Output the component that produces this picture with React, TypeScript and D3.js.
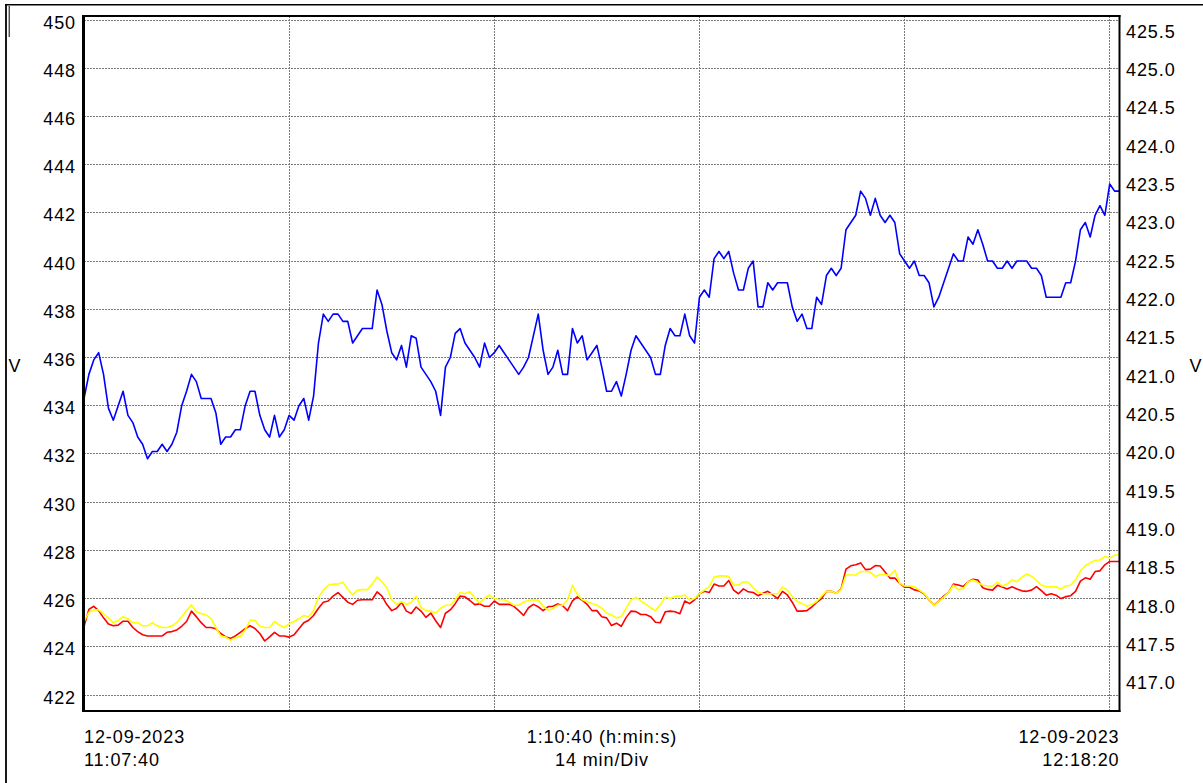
import * as d3 from "d3";

// seconds between samples, total span 1:10:40
const SAMPLE_STEP = 20;
const SPAN = 4240;

const blueV = [
  434.3, 435.3, 435.9, 436.2, 435.3, 433.9, 433.4, 434.0, 434.6, 433.6,
  433.3, 432.7, 432.4, 431.8, 432.1, 432.1, 432.4, 432.1, 432.4, 432.9,
  434.0, 434.6, 435.3, 435.0, 434.3, 434.3, 434.3, 433.7, 432.4, 432.7,
  432.7, 433.0, 433.0, 434.0, 434.6, 434.6, 433.6, 433.0, 432.7, 433.6,
  432.7, 433.0, 433.6, 433.4, 434.0, 434.3, 433.4, 434.4, 436.6,
  437.8, 437.5, 437.8, 437.8, 437.5, 437.5, 436.6, 436.9, 437.2, 437.2, 437.2,
  438.8, 438.2, 437.1, 436.2, 435.9, 436.5, 435.6, 436.9, 436.8, 435.6,
  435.3, 435.0, 434.6, 433.6, 435.6, 436.0, 437.0, 437.2, 436.6, 436.3,
  436.0, 435.6, 436.6, 436.0, 436.2, 436.5, 436.2, 435.9, 435.6, 435.3,
  435.6, 436.0, 436.9, 437.8, 436.3, 435.3, 435.6, 436.3, 435.3, 435.3,
  437.2, 436.6, 436.9, 435.9, 436.2, 436.5, 435.6, 434.6, 434.6, 435.0,
  434.4, 435.3, 436.3, 436.9, 436.6, 436.3, 436.0, 435.3, 435.3, 436.5,
  437.2, 436.9, 436.9, 437.8, 436.9, 436.6, 438.5, 438.8, 438.5, 440.1,
  440.4, 440.1, 440.4, 439.5, 438.8, 438.8, 439.7, 440.0, 438.1, 438.1,
  439.1, 438.8, 439.1, 439.1, 439.1, 438.1, 437.5, 437.8, 437.2, 437.2,
  438.5, 438.2, 439.4, 439.7, 439.4, 439.7, 441.3, 441.6, 441.9, 442.9,
  442.6, 441.9, 442.6, 441.9, 441.6, 441.9, 441.6, 440.3, 440.0, 439.7,
  440.0, 439.4, 439.4, 439.1, 438.1, 438.5, 439.1, 439.7, 440.3, 440.0,
  440.0, 441.0, 440.7, 441.3, 440.7, 440.0, 440.0, 439.7, 439.7, 440.0,
  439.7, 440.0, 440.0, 440.0, 439.7, 439.7, 439.4, 438.5, 438.5, 438.5,
  438.5, 439.1, 439.1, 440.0, 441.3, 441.6, 441.0, 441.9, 442.3, 441.9,
  443.2, 442.9, 442.9,
];

const redV = [
  424.84, 425.55, 425.68, 425.5, 425.2, 424.95, 424.87, 424.9, 425.06, 425.06,
  424.8, 424.63, 424.5, 424.45, 424.45, 424.45, 424.45, 424.6, 424.63, 424.7,
  424.85, 425.05, 425.48, 425.25, 425.0, 424.8, 424.8, 424.75, 424.55, 424.41,
  424.35, 424.45, 424.6, 424.75, 424.87, 424.76, 424.55, 424.24, 424.41, 424.6,
  424.45, 424.45, 424.4, 424.5, 424.75, 425.0, 425.1, 425.3, 425.6, 425.85,
  425.9, 426.1, 426.25, 426.05, 425.85, 425.76, 425.93, 425.95, 425.95, 425.95,
  426.28,
  426.1, 425.75, 425.5, 425.6, 425.85, 425.48, 425.38, 425.65, 425.48,
  425.22, 425.4, 425.08, 424.8, 425.39, 425.53, 425.79, 426.1, 426.07, 425.92,
  425.75, 425.78, 425.68, 425.68, 425.9, 425.76, 425.76, 425.76, 425.68, 425.5,
  425.3, 425.62, 425.76, 425.66, 425.5, 425.66, 425.68, 425.78, 425.7, 425.5,
  425.9, 426.07, 425.93, 425.76, 425.5, 425.5, 425.25, 425.2, 424.88, 424.98,
  424.85, 425.22, 425.48, 425.46, 425.34, 425.34, 425.25, 425.02, 425.0, 425.45,
  425.48, 425.45, 425.37,
  425.9, 425.79, 425.95, 426.2, 426.3, 426.25, 426.6, 426.52, 426.52, 426.75,
  426.35, 426.2, 426.4, 426.28, 426.25, 426.12, 426.22, 426.3, 426.15, 426.0,
  426.3, 426.15, 425.85, 425.48, 425.48, 425.5, 425.65, 425.84, 426.0, 426.3,
  426.3, 426.22, 426.4, 427.22, 427.36, 427.4, 427.48, 427.2, 427.22, 427.37,
  427.35, 427.1, 426.85, 426.85, 426.63, 426.47, 426.47, 426.36, 426.32, 426.2,
  425.95, 425.72, 425.9, 426.1, 426.25, 426.6, 426.56, 426.5, 426.7, 426.8,
  426.77,
  426.45, 426.38, 426.35, 426.55, 426.48, 426.4, 426.49, 426.4, 426.32, 426.3,
  426.35, 426.5, 426.33, 426.14, 426.2, 426.14, 426.0, 426.08, 426.12, 426.3,
  426.72, 426.86, 426.8, 427.12, 427.15, 427.4, 427.54, 427.54, 427.54,
];

const yellowV = [
  425.05, 425.43, 425.53, 425.53, 425.37, 425.2, 425.0, 425.1, 425.25, 425.16,
  425.0, 425.0, 424.87, 424.87, 425.0, 424.87, 424.8, 424.8, 424.87, 425.0,
  425.25, 425.5, 425.74, 425.45, 425.38, 425.32, 425.18, 424.8, 424.45, 424.4,
  424.27, 424.38, 424.43, 424.7, 425.1, 425.1, 424.85, 424.8, 424.8, 425.05,
  424.9, 424.8, 424.95, 425.05, 425.16, 425.3, 425.25, 425.5, 426.05, 426.35,
  426.55, 426.6, 426.6, 426.68, 426.4, 426.15, 426.35, 426.37, 426.37, 426.6,
  426.9,
  426.7, 426.45, 425.95, 425.75, 425.88, 425.75, 425.85, 426.1, 425.63,
  425.5, 425.47, 425.4, 425.6, 425.72, 425.72, 425.95, 426.25, 426.2, 426.28,
  426.03, 425.82, 426.02, 426.15, 426.0, 425.95, 425.95, 425.86, 425.72, 425.72,
  425.85, 425.93, 425.95, 425.93, 425.68, 425.52, 425.58, 425.72, 425.72, 425.95,
  426.55, 426.18, 425.95, 425.88, 425.8, 425.73, 425.6, 425.4, 425.32, 425.2,
  425.25, 425.6, 425.95, 426.05, 425.9, 425.77, 425.62, 425.5, 425.75, 426.07,
  426.0, 426.1, 426.1,
  426.15, 425.95, 426.0, 426.2, 426.35, 426.5, 426.89, 426.94, 426.94, 426.92,
  426.56, 426.56, 426.7, 426.68, 426.45, 426.26, 426.2, 426.2, 426.2, 426.2,
  426.48, 426.35, 426.1, 425.88, 425.8, 425.68, 425.75, 425.88, 426.1, 426.3,
  426.3, 426.22, 426.38, 426.98, 426.98, 426.98, 427.12, 427.12, 427.1, 426.92,
  427.0, 427.0, 426.95, 427.18, 426.63, 426.52, 426.52, 426.49, 426.35, 426.22,
  425.96, 425.7, 425.88, 426.06, 426.25, 426.56, 426.37, 426.4, 426.7, 426.77,
  426.66,
  426.55, 426.52, 426.52, 426.68, 426.52, 426.6, 426.78, 426.7, 426.88, 427.02,
  426.93, 426.75, 426.56, 426.49, 426.49, 426.49, 426.4, 426.52, 426.55, 426.78,
  427.15, 427.36, 427.48, 427.59, 427.6, 427.75, 427.68, 427.8, 427.83,
];

const leftTicks = [422, 424, 426, 428, 430, 432, 434, 436, 438, 440, 442, 444, 446, 448, 450];
const rightTicks = [417.0, 417.5, 418.0, 418.5, 419.0, 419.5, 420.0, 420.5, 421.0, 421.5, 422.0, 422.5, 423.0, 423.5, 424.0, 424.5, 425.0, 425.5];
const divTicks = [840, 1680, 2520, 3360, 4200]; // 14 min/Div
const startLabel = ["12-09-2023", "11:07:40"];
const midLabel = ["1:10:40 (h:min:s)", "14 min/Div"];
const endLabel = ["12-09-2023", "12:18:20"];

const font = "'Liberation Sans', Arial, sans-serif";

export default function App() {
  const plot = { left: 84, right: 1119.5, top: 16, bottom: 711 };
  const x = d3.scaleLinear().domain([0, SPAN]).range([plot.left, plot.right]);
  const yL = d3.scaleLinear().domain([422, 450]).range([695, 20]);
  const yR = d3.scaleLinear().domain([417, 425.5]).range([683, 31.5]);

  const line = d3
    .line<number>()
    .x((_, i) => x(i * SAMPLE_STEP))
    .y((d) => yL(d));

  const txt = { fontFamily: font, fontSize: 18, letterSpacing: 0.9, fill: "#000" };

  return (
    <div style={{ position: "fixed", left: 0, top: 0 }}>
      <svg width={1203} height={783} style={{ display: "block", background: "#fff" }}>
        <defs>
          <clipPath id="plotClip">
            <rect x={plot.left} y={plot.top} width={plot.right - plot.left} height={plot.bottom - plot.top} />
          </clipPath>
        </defs>

        {/* outer window edges */}
        <line x1={5} x2={1203} y1={4.8} y2={4.8} stroke="#000" strokeWidth={1.6} />
        <line x1={6} x2={6} y1={4} y2={783} stroke="#000" strokeWidth={1.8} />
        <line x1={9.2} x2={9.2} y1={6} y2={37} stroke="#000" strokeWidth={1} />

        {/* grid */}
        <g shapeRendering="crispEdges" stroke="#7a7a7a" strokeWidth={1} strokeDasharray="2 1">
          {leftTicks.map((t) => (
            <line key={t} x1={plot.left} x2={plot.right} y1={yL(t)} y2={yL(t)} />
          ))}
          {divTicks.map((t) => (
            <line key={t} x1={x(t)} x2={x(t)} y1={plot.top} y2={plot.bottom} />
          ))}
        </g>

        {/* series */}
        <g clipPath="url(#plotClip)" fill="none" strokeLinejoin="round">
          <path d={line(redV) ?? ""} stroke="#ff0000" strokeWidth={1.6} />
          <path d={line(yellowV) ?? ""} stroke="#ffff00" strokeWidth={1.6} />
          <path d={line(blueV) ?? ""} stroke="#0000ff" strokeWidth={1.6} />
        </g>

        {/* plot frame */}
        <line x1={plot.left} x2={plot.right + 1} y1={plot.top} y2={plot.top} stroke="#000" strokeWidth={2} />
        <line x1={plot.left} x2={plot.right + 1} y1={plot.bottom} y2={plot.bottom} stroke="#000" strokeWidth={2} />
        <line x1={plot.left - 0.5} x2={plot.left - 0.5} y1={plot.top - 1} y2={plot.bottom + 1} stroke="#000" strokeWidth={3} />
        <line x1={plot.right} x2={plot.right} y1={plot.top - 1} y2={plot.bottom + 1} stroke="#000" strokeWidth={2} />

        {/* left axis labels */}
        {leftTicks.map((t) => (
          <text key={t} x={76} y={yL(t) + 8.5} textAnchor="end" style={txt}>
            {t}
          </text>
        ))}
        {/* right axis labels */}
        {rightTicks.map((t) => (
          <text key={t} x={1126} y={yR(t) + 6.3} style={txt}>
            {t.toFixed(1)}
          </text>
        ))}

        <text x={15} y={371.5} textAnchor="middle" style={txt}>V</text>
        <text x={1196} y={371.5} textAnchor="middle" style={txt}>V</text>

        {/* time labels */}
        {startLabel.map((s, i) => (
          <text key={"s" + i} x={x(0)} y={743 + i * 23} style={txt}>{s}</text>
        ))}
        {midLabel.map((s, i) => (
          <text key={"m" + i} x={602} y={743 + i * 23} textAnchor="middle" style={txt}>{s}</text>
        ))}
        {endLabel.map((s, i) => (
          <text key={"e" + i} x={x(SPAN)} y={743 + i * 23} textAnchor="end" style={txt}>{s}</text>
        ))}
      </svg>
    </div>
  );
}
